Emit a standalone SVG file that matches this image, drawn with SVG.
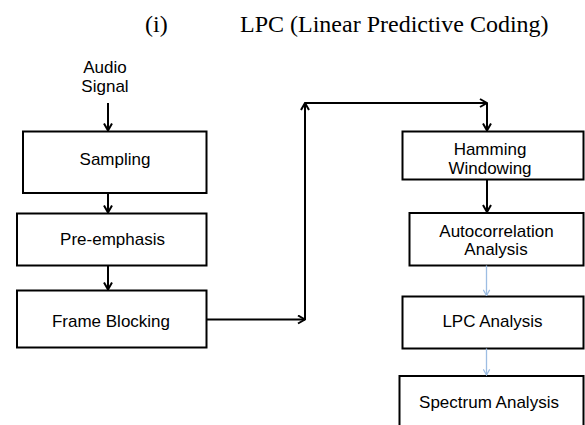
<svg xmlns="http://www.w3.org/2000/svg" width="585" height="425" viewBox="0 0 585 425">
<defs>
<style>
.box{fill:#fff;stroke:#000;stroke-width:2}
.t{font-family:"Liberation Sans",Arial,sans-serif;font-size:17px;fill:#000;text-anchor:middle}
.title{font-family:"Liberation Serif","Times New Roman",serif;font-size:24px;fill:#000}
.c{fill:none;stroke:#000;stroke-width:2}
.cb{fill:none;stroke:#9dbde3;stroke-width:1.3}
</style>
<marker id="ah" viewBox="0 0 10 10" refX="9" refY="5" markerWidth="10" markerHeight="10" markerUnits="userSpaceOnUse" orient="auto">
<path d="M2,1 L9,5 L2,9" fill="none" stroke="#000" stroke-width="2"/>
</marker>
<marker id="ahb" viewBox="0 0 10 10" refX="9" refY="5" markerWidth="8" markerHeight="8" markerUnits="userSpaceOnUse" orient="auto">
<path d="M2,1 L9,5 L2,9" fill="none" stroke="#9dbde3" stroke-width="1.5"/>
</marker>
</defs>
<rect width="585" height="425" fill="#fff"/>
<g id="title">
<text class="title" x="145" y="32">(i)</text>
<text class="title" x="240" y="32">LPC (Linear Predictive Coding)</text>
</g>
<g id="audio">
<text class="t" x="105" y="73">Audio</text>
<text class="t" x="105" y="92">Signal</text>
</g>
<g id="sampling">
<rect class="box" x="23" y="131.5" width="183.5" height="61.5"/>
<text class="t" x="115" y="165">Sampling</text>
</g>
<g id="preemphasis">
<rect class="box" x="17" y="213.5" width="189.5" height="52"/>
<text class="t" x="112.5" y="245">Pre-emphasis</text>
</g>
<g id="frameblocking">
<rect class="box" x="17" y="290.5" width="189.5" height="57"/>
<text class="t" x="111" y="326.5">Frame Blocking</text>
</g>
<g id="hamming">
<rect class="box" x="402.5" y="131.5" width="181" height="48"/>
<text class="t" x="490" y="155">Hamming</text>
<text class="t" x="490" y="173.5">Windowing</text>
</g>
<g id="autocorrelation">
<rect class="box" x="409.5" y="213" width="174" height="52.5"/>
<text class="t" x="496.5" y="236.5">Autocorrelation</text>
<text class="t" x="496" y="255">Analysis</text>
</g>
<g id="lpcanalysis">
<rect class="box" x="402.5" y="296.5" width="181" height="52"/>
<text class="t" x="492.5" y="326.5">LPC Analysis</text>
</g>
<g id="spectrum">
<rect class="box" x="399.5" y="376" width="184" height="60"/>
<text class="t" x="489" y="408">Spectrum Analysis</text>
</g>
<g id="connectors">
<line class="c" x1="108" y1="103" x2="108" y2="130.5" marker-end="url(#ah)"/>
<line class="c" x1="108" y1="193" x2="108" y2="212.5" marker-end="url(#ah)"/>
<line class="c" x1="108" y1="265.5" x2="108" y2="289.5" marker-end="url(#ah)"/>
<line class="c" x1="206.5" y1="319.5" x2="305" y2="319.5" marker-end="url(#ah)"/>
<line class="c" x1="305" y1="319.5" x2="305" y2="103" marker-end="url(#ah)"/>
<line class="c" x1="305" y1="103" x2="487" y2="103" marker-end="url(#ah)"/>
<line class="c" x1="487" y1="103" x2="487" y2="130.5" marker-end="url(#ah)"/>
<line class="c" x1="487" y1="179.5" x2="487" y2="212" marker-end="url(#ah)"/>
<line class="cb" x1="486.5" y1="265.5" x2="486.5" y2="295.5" marker-end="url(#ahb)"/>
<line class="cb" x1="486.5" y1="348.5" x2="486.5" y2="375" marker-end="url(#ahb)"/>
</g>
</svg>
